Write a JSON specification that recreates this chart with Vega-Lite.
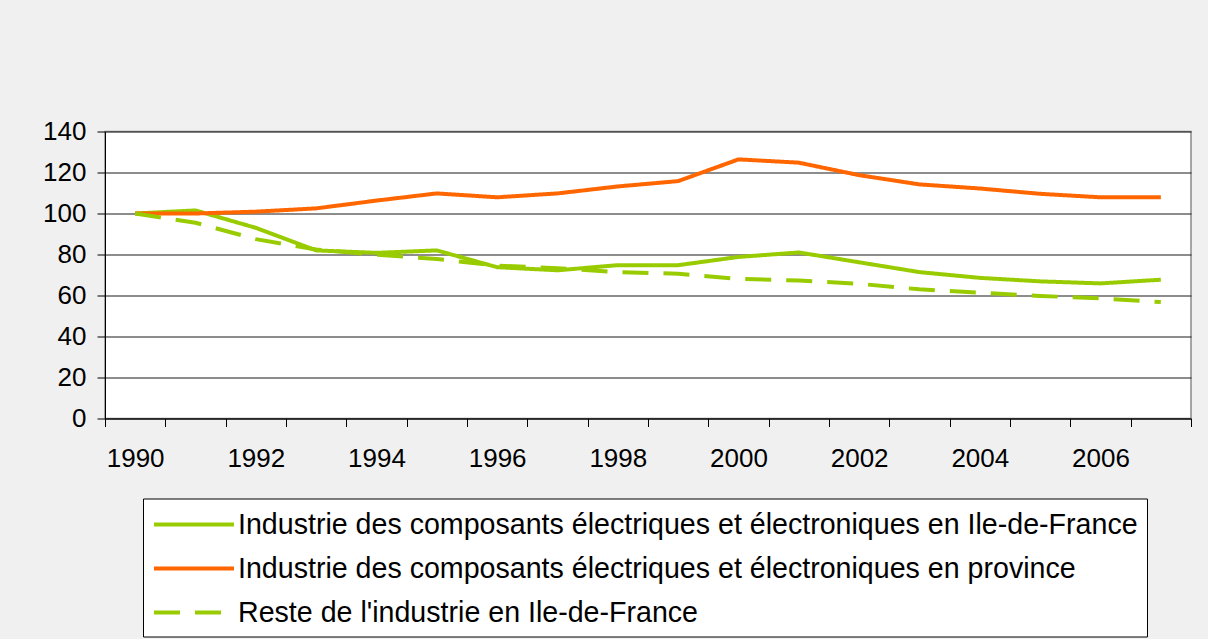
{
  "$schema": "https://vega.github.io/schema/vega-lite/v6.json",
  "autosize": {"type": "none"},
  "width": 1086,
  "height": 287,
  "padding": {"left": 105, "top": 131.5, "right": 17, "bottom": 220},
  "background": "#f0f0f0",
  "config": {
    "font": "Liberation Sans",
    "view": {"fill": "white", "stroke": "#8a8a8a", "strokeWidth": 1.5}
  },
  "data": {
    "values": [
      {"year": 1990, "series": "Industrie des composants électriques et électroniques en Ile-de-France", "value": 100},
      {"year": 1991, "series": "Industrie des composants électriques et électroniques en Ile-de-France", "value": 101.5},
      {"year": 1992, "series": "Industrie des composants électriques et électroniques en Ile-de-France", "value": 93},
      {"year": 1993, "series": "Industrie des composants électriques et électroniques en Ile-de-France", "value": 82},
      {"year": 1994, "series": "Industrie des composants électriques et électroniques en Ile-de-France", "value": 80.8},
      {"year": 1995, "series": "Industrie des composants électriques et électroniques en Ile-de-France", "value": 82},
      {"year": 1996, "series": "Industrie des composants électriques et électroniques en Ile-de-France", "value": 73.8},
      {"year": 1997, "series": "Industrie des composants électriques et électroniques en Ile-de-France", "value": 72.3},
      {"year": 1998, "series": "Industrie des composants électriques et électroniques en Ile-de-France", "value": 74.8},
      {"year": 1999, "series": "Industrie des composants électriques et électroniques en Ile-de-France", "value": 74.8},
      {"year": 2000, "series": "Industrie des composants électriques et électroniques en Ile-de-France", "value": 78.8},
      {"year": 2001, "series": "Industrie des composants électriques et électroniques en Ile-de-France", "value": 81},
      {"year": 2002, "series": "Industrie des composants électriques et électroniques en Ile-de-France", "value": 76.2},
      {"year": 2003, "series": "Industrie des composants électriques et électroniques en Ile-de-France", "value": 71.4},
      {"year": 2004, "series": "Industrie des composants électriques et électroniques en Ile-de-France", "value": 68.6},
      {"year": 2005, "series": "Industrie des composants électriques et électroniques en Ile-de-France", "value": 66.9},
      {"year": 2006, "series": "Industrie des composants électriques et électroniques en Ile-de-France", "value": 65.9},
      {"year": 2007, "series": "Industrie des composants électriques et électroniques en Ile-de-France", "value": 67.7},
      {"year": 1990, "series": "Industrie des composants électriques et électroniques en province", "value": 100},
      {"year": 1991, "series": "Industrie des composants électriques et électroniques en province", "value": 100},
      {"year": 1992, "series": "Industrie des composants électriques et électroniques en province", "value": 100.9},
      {"year": 1993, "series": "Industrie des composants électriques et électroniques en province", "value": 102.5},
      {"year": 1994, "series": "Industrie des composants électriques et électroniques en province", "value": 106.3},
      {"year": 1995, "series": "Industrie des composants électriques et électroniques en province", "value": 109.8},
      {"year": 1996, "series": "Industrie des composants électriques et électroniques en province", "value": 107.9},
      {"year": 1997, "series": "Industrie des composants électriques et électroniques en province", "value": 109.8},
      {"year": 1998, "series": "Industrie des composants électriques et électroniques en province", "value": 113.2},
      {"year": 1999, "series": "Industrie des composants électriques et électroniques en province", "value": 115.8},
      {"year": 2000, "series": "Industrie des composants électriques et électroniques en province", "value": 126.4},
      {"year": 2001, "series": "Industrie des composants électriques et électroniques en province", "value": 124.8},
      {"year": 2002, "series": "Industrie des composants électriques et électroniques en province", "value": 118.7},
      {"year": 2003, "series": "Industrie des composants électriques et électroniques en province", "value": 114.2},
      {"year": 2004, "series": "Industrie des composants électriques et électroniques en province", "value": 112.2},
      {"year": 2005, "series": "Industrie des composants électriques et électroniques en province", "value": 109.6},
      {"year": 2006, "series": "Industrie des composants électriques et électroniques en province", "value": 107.9},
      {"year": 2007, "series": "Industrie des composants électriques et électroniques en province", "value": 107.9},
      {"year": 1990, "series": "Reste de l'industrie en Ile-de-France", "value": 100},
      {"year": 1991, "series": "Reste de l'industrie en Ile-de-France", "value": 95.5},
      {"year": 1992, "series": "Reste de l'industrie en Ile-de-France", "value": 87.5},
      {"year": 1993, "series": "Reste de l'industrie en Ile-de-France", "value": 82.4},
      {"year": 1994, "series": "Reste de l'industrie en Ile-de-France", "value": 79.9},
      {"year": 1995, "series": "Reste de l'industrie en Ile-de-France", "value": 77.8},
      {"year": 1996, "series": "Reste de l'industrie en Ile-de-France", "value": 74.6},
      {"year": 1997, "series": "Reste de l'industrie en Ile-de-France", "value": 73.3},
      {"year": 1998, "series": "Reste de l'industrie en Ile-de-France", "value": 71.4},
      {"year": 1999, "series": "Reste de l'industrie en Ile-de-France", "value": 70.6},
      {"year": 2000, "series": "Reste de l'industrie en Ile-de-France", "value": 68.1},
      {"year": 2001, "series": "Reste de l'industrie en Ile-de-France", "value": 67.3},
      {"year": 2002, "series": "Reste de l'industrie en Ile-de-France", "value": 65.7},
      {"year": 2003, "series": "Reste de l'industrie en Ile-de-France", "value": 63},
      {"year": 2004, "series": "Reste de l'industrie en Ile-de-France", "value": 61.4},
      {"year": 2005, "series": "Reste de l'industrie en Ile-de-France", "value": 59.8},
      {"year": 2006, "series": "Reste de l'industrie en Ile-de-France", "value": 58.6},
      {"year": 2007, "series": "Reste de l'industrie en Ile-de-France", "value": 56.8}
    ]
  },
  "mark": {"type": "line", "strokeWidth": 4, "strokeJoin": "round", "strokeCap": "butt"},
  "encoding": {
    "x": {
      "field": "year",
      "type": "ordinal",
      "bandPosition": 0.5,
      "scale": {"type": "band", "paddingInner": 0, "paddingOuter": 0},
      "axis": {
        "title": null,
        "labelAngle": 0,
        "tickBand": "extent",
        "labelExpr": "datum.value % 2 == 0 ? datum.label : ''",
        "labelFont": "Liberation Sans",
        "labelFontSize": 26,
        "labelColor": "black",
        "labelPadding": 19,
        "tickSize": 8,
        "tickColor": "black",
        "domainColor": "black",
        "grid": false
      }
    },
    "y": {
      "field": "value",
      "type": "quantitative",
      "scale": {"domain": [0, 140], "nice": false},
      "axis": {
        "title": null,
        "values": [0, 20, 40, 60, 80, 100, 120, 140],
        "labelFont": "Liberation Sans",
        "labelFontSize": 26,
        "labelColor": "black",
        "labelPadding": 11,
        "tickSize": 8,
        "tickColor": "black",
        "domainColor": "black",
        "grid": true,
        "gridColor": "#1a1a1a",
        "gridWidth": 1,
        "gridOpacity": 1
      }
    },
    "color": {
      "field": "series",
      "type": "nominal",
      "scale": {
        "domain": [
          "Industrie des composants électriques et électroniques en Ile-de-France",
          "Industrie des composants électriques et électroniques en province",
          "Reste de l'industrie en Ile-de-France"
        ],
        "range": ["#99cc00", "#ff6600", "#99cc00"]
      },
      "legend": {
        "orient": "none",
        "legendX": 38,
        "legendY": 367,
        "title": null,
        "symbolType": "M-1,0H4.333",
        "symbolSize": 900,
        "symbolStrokeWidth": 4,
        "labelFont": "Liberation Sans",
        "labelFontSize": 28.6,
        "labelColor": "black",
        "labelLimit": 2000,
        "labelOffset": 52,
        "fillColor": "white",
        "strokeColor": "black",
        "padding": 9,
        "rowPadding": 12
      }
    },
    "strokeDash": {
      "field": "series",
      "type": "nominal",
      "scale": {
        "domain": [
          "Industrie des composants électriques et électroniques en Ile-de-France",
          "Industrie des composants électriques et électroniques en province",
          "Reste de l'industrie en Ile-de-France"
        ],
        "range": [[1, 0], [1, 0], [26, 15]]
      },
      "legend": {
        "orient": "none",
        "legendX": 38,
        "legendY": 367,
        "title": null,
        "symbolType": "M-1,0H4.333",
        "symbolSize": 900,
        "symbolStrokeWidth": 4,
        "labelFont": "Liberation Sans",
        "labelFontSize": 28.6,
        "labelColor": "black",
        "labelLimit": 2000,
        "labelOffset": 52,
        "fillColor": "white",
        "strokeColor": "black",
        "padding": 9,
        "rowPadding": 12
      }
    }
  }
}
